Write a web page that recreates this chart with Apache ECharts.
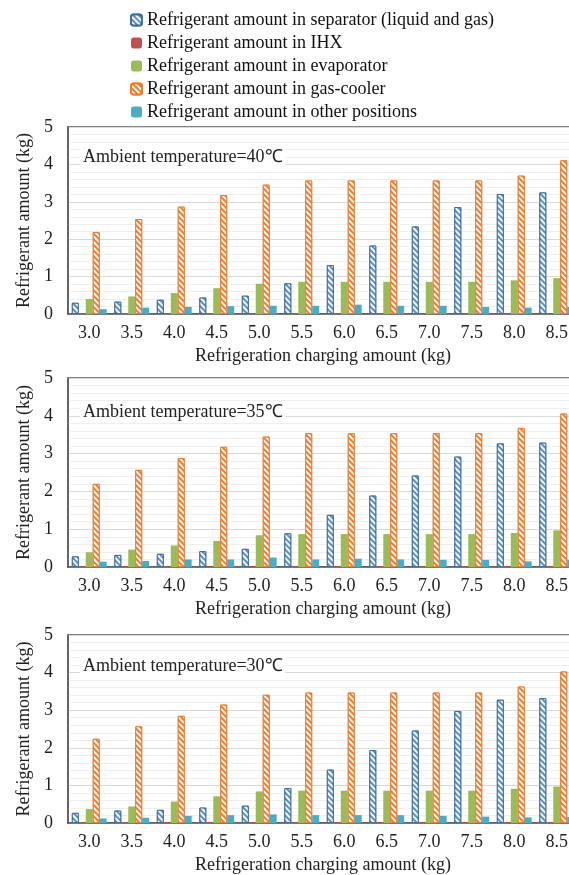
<!DOCTYPE html>
<html><head><meta charset="utf-8">
<script src="https://cdn.jsdelivr.net/npm/echarts@6/dist/echarts.min.js"></script>
<style>html,body{margin:0;padding:0;background:#fff;overflow:hidden}#c{width:600px;height:875px}</style>
</head><body><div id="c"></div>
<script>
const categories = ['3.0','3.5','4.0','4.5','5.0','5.5','6.0','6.5','7.0','7.5','8.0','8.5'];
const seriesNames = [
  'Refrigerant amount in separator (liquid and gas)',
  'Refrigerant amount in IHX',
  'Refrigerant amount in evaporator',
  'Refrigerant amount in gas-cooler',
  'Refrigerant amount in other positions'
];
const panelLabels = ['Ambient temperature=40\u2103','Ambient temperature=35\u2103','Ambient temperature=30\u2103'];
const yTicks = [0,1,2,3,4,5];

// 40 °C
const separator40 = [0.30,0.33,0.38,0.44,0.49,0.82,1.31,1.83,2.34,2.86,3.21,3.25];
const ihx40       = [0.02,0.02,0.02,0.02,0.02,0.02,0.02,0.02,0.02,0.02,0.02,0.02];
const evaporator40= [0.40,0.47,0.56,0.69,0.81,0.86,0.86,0.86,0.86,0.86,0.90,0.96];
const gascooler40 = [2.19,2.54,2.87,3.18,3.46,3.57,3.57,3.57,3.57,3.57,3.70,4.11];
const other40     = [0.13,0.17,0.19,0.21,0.22,0.22,0.25,0.22,0.22,0.19,0.17,0.19];
// 35 °C
const separator35 = [0.28,0.32,0.35,0.42,0.48,0.89,1.38,1.89,2.42,2.92,3.27,3.29];
const ihx35       = [0.02,0.02,0.02,0.02,0.02,0.02,0.02,0.02,0.02,0.02,0.02,0.02];
const evaporator35= [0.39,0.46,0.57,0.69,0.84,0.87,0.87,0.87,0.87,0.87,0.90,0.97];
const gascooler35 = [2.20,2.57,2.88,3.18,3.45,3.54,3.54,3.54,3.54,3.54,3.68,4.06];
const other35     = [0.14,0.16,0.20,0.20,0.25,0.20,0.22,0.20,0.19,0.19,0.15,0.19];
// 30 °C
const separator30 = [0.27,0.33,0.35,0.41,0.46,0.93,1.42,1.94,2.46,2.98,3.28,3.32];
const ihx30       = [0.02,0.02,0.02,0.02,0.02,0.02,0.02,0.02,0.02,0.02,0.02,0.02];
const evaporator30= [0.37,0.44,0.57,0.71,0.84,0.86,0.86,0.86,0.86,0.86,0.91,0.97];
const gascooler30 = [2.24,2.57,2.85,3.15,3.41,3.47,3.47,3.47,3.47,3.47,3.63,4.03];
const other30     = [0.12,0.14,0.19,0.21,0.23,0.21,0.21,0.21,0.19,0.17,0.15,0.16];

const panels = [
  [separator40, ihx40, evaporator40, gascooler40, other40],
  [separator35, ihx35, evaporator35, gascooler35, other35],
  [separator30, ihx30, evaporator30, gascooler30, other30]
];

const FONT = '"Liberation Serif", "Times New Roman", serif';
const gridTops = [127, 378, 635];
const gridHeights = [187, 189, 189];
const labelTops = [146, 401, 655];

const stripe = {symbol:'rect', symbolSize:1, dashArrayX:[1,0], dashArrayY:[2,2], rotation: Math.PI/4, color:'rgba(255,255,255,0.95)'};
const styles = [
  {color:'#5b8fc7', borderColor:'#41719c', borderWidth:1, decal: stripe},
  {color:'#c0504d'},
  {color:'#9bbb59'},
  {color:'#ed7d31', borderColor:'#ed7d31', borderWidth:1, decal: stripe},
  {color:'#4bacc6'}
];

const grid = [], xAxis = [], yAxis = [], series = [], title = [];
panels.forEach((p, i) => {
  grid.push({left:68, width:510, top:gridTops[i], height:gridHeights[i], show:true, borderColor:'#595959', borderWidth:1.5, containLabel:false});
  xAxis.push({type:'category', gridIndex:i, data:categories,
    axisLine:{show:true, lineStyle:{color:'#595959', width:1.5}}, axisTick:{show:false},
    axisLabel:{fontSize:18, fontFamily:FONT, color:'#222', margin:10},
    name:'Refrigeration charging amount (kg)', nameLocation:'middle', nameGap:33,
    nameTextStyle:{fontSize:18, fontFamily:FONT, color:'#222'}});
  yAxis.push({type:'value', gridIndex:i, min:0, max:5, interval:1,
    axisLine:{show:true, lineStyle:{color:'#595959', width:1.5}}, axisTick:{show:false},
    axisLabel:{fontSize:18, fontFamily:FONT, color:'#222', margin:15},
    splitLine:{show:true, lineStyle:{color:'#d9d9d9', width:1}},
    minorTick:{show:false, splitNumber:5},
    minorSplitLine:{show:true, lineStyle:{color:'#efefef', width:1}},
    name:'Refrigerant amount (kg)', nameLocation:'middle', nameGap:31,
    nameTextStyle:{fontSize:18, fontFamily:FONT, color:'#222'}});
  p.forEach((vals, k) => {
    series.push({type:'bar', name:seriesNames[k], xAxisIndex:i, yAxisIndex:i, data:vals,
      barGap:'0%', barCategoryGap:'18%', itemStyle:styles[k]});
  });
  title.push({text:panelLabels[i], left:80, top:labelTops[i], padding:[2,3],
    backgroundColor:'#fff',
    textStyle:{fontSize:18, fontWeight:'normal', fontFamily:FONT, color:'#222'}});
});

const chart = echarts.init(document.getElementById('c'), null, {renderer:'canvas'});
chart.setOption({
  animation:false,
  aria:{enabled:false},
  title:title,
  legend:{data:seriesNames, orient:'vertical', left:130, top:11, padding:0, itemWidth:11, itemHeight:11, itemGap:5,
    textStyle:{fontSize:18, fontFamily:FONT, color:'#111'}},
  grid:grid, xAxis:xAxis, yAxis:yAxis, series:series
});
</script></body></html>
